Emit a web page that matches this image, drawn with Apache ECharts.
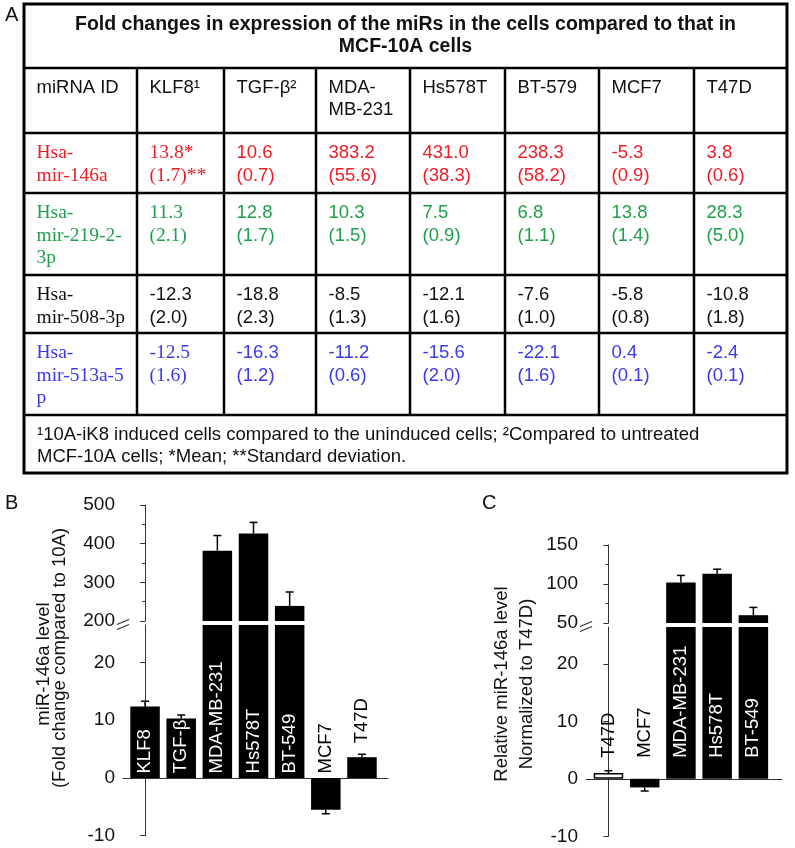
<!DOCTYPE html>
<html><head><meta charset="utf-8">
<script src="https://cdn.jsdelivr.net/npm/echarts@6/dist/echarts.min.js"></script>
<style>html,body{margin:0;padding:0;background:#fff}#c{width:795px;height:848px}</style>
</head><body><div id="c"></div>
<script>
// ---------- Panel A: table data ----------
const tableTitle = 'Fold changes in expression of the miRs in the cells compared to that in\nMCF-10A cells';
const tableColumns = ['miRNA ID', 'KLF8¹', 'TGF-β²', 'MDA-\nMB-231', 'Hs578T', 'BT-579', 'MCF7', 'T47D'];
const mirnaIds = ['Hsa-\nmir-146a', 'Hsa-\nmir-219-2-\n3p', 'Hsa-\nmir-508-3p', 'Hsa-\nmir-513a-5\np'];
const mir146aMeans = [13.8, 10.6, 383.2, 431.0, 238.3, -5.3, 3.8];
const mir146aSDs   = [1.7, 0.7, 55.6, 38.3, 58.2, 0.9, 0.6];
const mir219Means  = [11.3, 12.8, 10.3, 7.5, 6.8, 13.8, 28.3];
const mir219SDs    = [2.1, 1.7, 1.5, 0.9, 1.1, 1.4, 5.0];
const mir508Means  = [-12.3, -18.8, -8.5, -12.1, -7.6, -5.8, -10.8];
const mir508SDs    = [2.0, 2.3, 1.3, 1.6, 1.0, 0.8, 1.8];
const mir513Means  = [-12.5, -16.3, -11.2, -15.6, -22.1, 0.4, -2.4];
const mir513SDs    = [1.6, 1.2, 0.6, 2.0, 1.6, 0.1, 0.1];
const tableFootnote = '¹10A-iK8 induced cells compared to the uninduced cells; ²Compared to untreated\nMCF-10A cells; *Mean; **Standard deviation.';

// ---------- Panel B data ----------
const bCategories = ['KLF8', 'TGF-β', 'MDA-MB-231', 'Hs578T', 'BT-549', 'MCF7', 'T47D'];
const bValues = [12.4, 10.3, 382, 426, 239, -5.5, 3.6];
const bErrors = [0.9, 0.6, 39, 29, 36, 0.7, 0.5];
const bUpperTicks = [200, 300, 400, 500];
const bLowerTicks = [-10, 0, 10, 20];
const bTitle = ['miR-146a level', '(Fold change compared to 10A)'];

// ---------- Panel C data ----------
const cCategories = ['T47D', 'MCF7', 'MDA-MB-231', 'Hs578T', 'BT-549'];
const cValues = [1.0, -1.5, 102, 113, 60];
const cErrors = [0.4, 0.6, 9, 6, 10];
const cUpperTicks = [50, 100, 150];
const cLowerTicks = [-10, 0, 10, 20];
const cTitle = ['Relative miR-146a level', 'Normalized to T47D)'];
const cReference = 'T47D';

// ---------- layout / style ----------
const SANS = '"Liberation Sans", Arial, sans-serif';
const SERIF = '"Liberation Serif", "Times New Roman", serif';
const RED = '#ee1c25', GREEN = '#1e9f4c', BLUE = '#3a3ae6', BLACK = '#111';

const chart = echarts.init(document.getElementById('c'), null, {renderer: 'canvas'});

// table geometry
const colX = [24, 137, 224, 316, 410, 505, 599, 694, 787];
const rowY = [4, 68, 133, 193, 275, 333, 415, 473];
const graphics = [];
function line(x1, y1, x2, y2, w, c) {
  graphics.push({type: 'line', silent: true, shape: {x1, y1, x2, y2}, style: {stroke: c || '#000', lineWidth: w}});
}
function text(t, x, y, opts) {
  graphics.push(Object.assign({type: 'text', silent: true, x, y, style: Object.assign({
    text: t, fill: BLACK, fontFamily: SANS, fontSize: 18.5, lineHeight: 22.5, align: 'left', verticalAlign: 'top'
  }, opts.style || {})}, opts.el || {}));
}
// borders
graphics.push({type: 'rect', silent: true, shape: {x: colX[0], y: rowY[0], width: colX[8] - colX[0], height: rowY[7] - rowY[0]},
  style: {fill: 'none', stroke: '#000', lineWidth: 3}});
for (let r = 1; r <= 6; r++) line(colX[0], rowY[r], colX[8], rowY[r], 2.5);
for (let c = 1; c <= 7; c++) line(colX[c], rowY[1], colX[c], rowY[6], 2.5);

text(tableTitle, (colX[0] + colX[8]) / 2, 14, {style: {fontWeight: 'bold', fontSize: 19.5, lineHeight: 22, align: 'center'}});
tableColumns.forEach((h, c) => text(h, colX[c] + 12.5, rowY[1] + 8.5, {}));

const rowsData = [[mir146aMeans, mir146aSDs, RED], [mir219Means, mir219SDs, GREEN], [mir508Means, mir508SDs, BLACK], [mir513Means, mir513SDs, BLUE]];
rowsData.forEach(([means, sds, color], r) => {
  const top = rowY[2 + r] + 9;
  text(mirnaIds[r], colX[0] + 12.5, top, {style: {fill: color, fontFamily: SERIF, fontSize: 19.5}});
  means.forEach((m, c) => {
    let t = m.toFixed(1) + '\n(' + sds[c].toFixed(1) + ')';
    if (r === 0 && c === 0) t = m.toFixed(1) + '*\n(' + sds[c].toFixed(1) + ')**';
    const serif = c === 0 && color !== BLACK;
    text(t, colX[c + 1] + 12.5, top, {style: {fill: color, fontFamily: serif ? SERIF : SANS, fontSize: serif ? 19.5 : 18.5}});
  });
});
text(tableFootnote, colX[0] + 13, rowY[6] + 9, {style: {lineHeight: 22}});

// panel letters
text('A', 5, 4, {style: {fontSize: 20}});
text('B', 5, 492, {style: {fontSize: 20}});
text('C', 482, 492, {style: {fontSize: 20}});

// axis titles (rotated)
function vtitle(t, cx, cy, size) {
  graphics.push({type: 'text', silent: true, x: cx, y: cy, rotation: Math.PI / 2,
    style: {text: t, fill: BLACK, fontFamily: SANS, fontSize: size, align: 'center', verticalAlign: 'middle'}});
}
vtitle(bTitle[0], 44, 664, 18.5);
vtitle(bTitle[1], 60, 658, 18.5);
vtitle(cTitle[0], 502, 684, 18.5);
vtitle(cTitle[1], 527, 684, 18.5);

// ---------- chart grids ----------
const B = {axisX: 123, right: 388, upTop: 505, upBot: 621, loTop: 625, loBot: 835.7};
const C = {axisX: 586, right: 782, upTop: 545, upBot: 623, loTop: 627, loBot: 836.3};

function breakMarks(g) {
  [g.upBot + 1, g.loTop + 2].forEach(y => line(g.axisX - 6, y + 2.5, g.axisX + 6, y - 2.5, 1.3, '#333'));
}
breakMarks(B); breakMarks(C);

const axisColor = '#333';
function yAxisCfg(grid, min, max, interval, ticks, minor) {
  return {
    type: 'value', gridIndex: grid, min, max, interval,
    axisLine: {show: true, lineStyle: {color: axisColor, width: 1}},
    axisTick: {show: true, length: 5, lineStyle: {color: axisColor}, customValues: ticks},
    minorTick: {show: !!minor, splitNumber: 2, length: 3, lineStyle: {color: axisColor}},
    axisLabel: {fontFamily: SANS, fontSize: 19, color: BLACK, margin: 8, customValues: ticks},
    splitLine: {show: false}, minorSplitLine: {show: false}
  };
}
function xAxisCfg(grid, min, max, showLine) {
  return {
    type: 'value', gridIndex: grid, min, max,
    axisLine: {show: showLine, onZero: true, lineStyle: {color: axisColor, width: 1}},
    axisTick: {show: false}, axisLabel: {show: false}, splitLine: {show: false}
  };
}

const BAR_W = 29.5;
function barSeries(xi, values, names, hollowName) {
  return {
    type: 'bar', xAxisIndex: xi, yAxisIndex: xi, barWidth: BAR_W, clip: true, silent: true,
    data: values.map((v, i) => ({
      value: [i, v],
      itemStyle: names[i] === hollowName
        ? {color: '#fff', borderColor: '#000', borderWidth: 1.5}
        : {color: '#000'}
    }))
  };
}
function errSeries(xi, values, errors) {
  return {
    type: 'custom', xAxisIndex: xi, yAxisIndex: xi, clip: true, silent: true, z: 3,
    data: values.map((v, i) => [i, v, errors[i]]),
    renderItem(params, api) {
      const x = api.value(0), v = api.value(1), e = api.value(2);
      const end = v < 0 ? v - e : v + e;
      const p0 = api.coord([x, v]), p1 = api.coord([x, end]);
      const st = {stroke: '#000', lineWidth: 1.5};
      return {type: 'group', children: [
        {type: 'line', shape: {x1: p0[0], y1: p0[1], x2: p1[0], y2: p1[1]}, style: st},
        {type: 'line', shape: {x1: p1[0] - 4, y1: p1[1], x2: p1[0] + 4, y2: p1[1]}, style: st}
      ]};
    }
  };
}
// rotated category labels drawn from the lower-segment scale
function labelSeries(xi, values, errors, names, mode) {
  return {
    type: 'custom', xAxisIndex: xi, yAxisIndex: xi, clip: false, silent: true, z: 5,
    data: values.map((v, i) => [i, v, errors[i]]),
    renderItem(params, api) {
      const i = api.value(0), v = api.value(1), e = api.value(2);
      const white = v >= 8;
      let anchor = 0, off = mode === 'B' ? 4.5 : 21;
      if (mode === 'B' && !white && v > 0) { anchor = v + e; off = 11; }
      const p = api.coord([i, anchor]);
      return {type: 'text', x: p[0], y: p[1] - off, rotation: Math.PI / 2,
        style: {text: names[i], fill: white ? '#fff' : '#000', fontFamily: SANS, fontSize: 18.5,
          align: 'left', verticalAlign: 'middle'}};
    }
  };
}

const option = {
  animation: false,
  backgroundColor: '#fff',
  grid: [
    {left: B.axisX, top: B.upTop, width: B.right - B.axisX, height: B.upBot - B.upTop},
    {left: B.axisX, top: B.loTop, width: B.right - B.axisX, height: B.loBot - B.loTop},
    {left: C.axisX, top: C.upTop, width: C.right - C.axisX, height: C.upBot - C.upTop},
    {left: C.axisX, top: C.loTop, width: C.right - C.axisX, height: C.loBot - C.loTop}
  ],
  xAxis: [
    xAxisCfg(0, -0.61, 6.72, false),
    xAxisCfg(1, -0.61, 6.72, true),
    xAxisCfg(2, -0.62, 4.79, false),
    xAxisCfg(3, -0.62, 4.79, true)
  ],
  yAxis: [
    yAxisCfg(0, 200, 500, 100, bUpperTicks, true),
    yAxisCfg(1, -10, 26.5, 10, bLowerTicks, false),
    yAxisCfg(2, 50, 150, 50, cUpperTicks, true),
    yAxisCfg(3, -10, 26.4, 10, cLowerTicks, false)
  ],
  series: [
    barSeries(0, bValues, bCategories, null), errSeries(0, bValues, bErrors),
    barSeries(1, bValues, bCategories, null), errSeries(1, bValues, bErrors),
    labelSeries(1, bValues, bErrors, bCategories, 'B'),
    barSeries(2, cValues, cCategories, cReference), errSeries(2, cValues, cErrors),
    barSeries(3, cValues, cCategories, cReference), errSeries(3, cValues, cErrors),
    labelSeries(3, cValues, cErrors, cCategories, 'C')
  ],
  graphic: {elements: graphics}
};
chart.setOption(option);
</script></body></html>
